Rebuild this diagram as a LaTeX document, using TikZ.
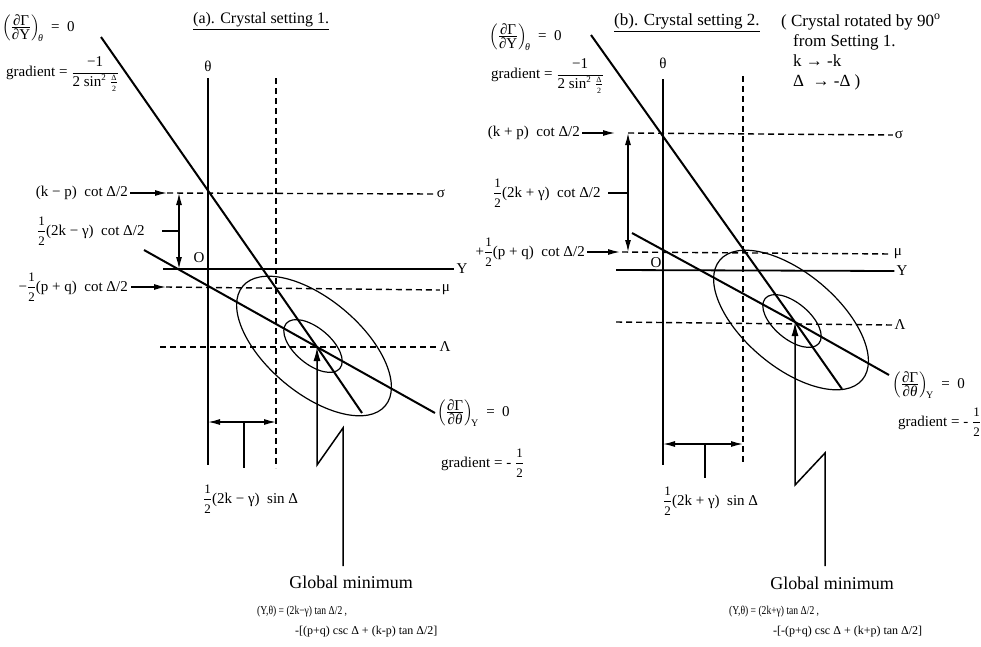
\documentclass[tikz,border=0pt]{standalone}
\usepackage{fontspec}
\setmainfont{Liberation Serif}
\usepackage{amsmath}
\usepackage{graphicx}
\usetikzlibrary{arrows.meta}
\newcommand{\hf}{\ensuremath{\genfrac{}{}{0.5pt}{0}{\mbox{\fontsize{13}{13}\selectfont 1}}{\mbox{\fontsize{13}{13}\selectfont 2}}}}
\newcommand{\pdr}[2]{\ensuremath{\left(\genfrac{}{}{0.6pt}{1}{\mbox{∂Γ}}{\mbox{∂#1}}\right)_{\!\mbox{\fontsize{10}{10}\selectfont #2}}}}
\newcommand{\gradfrac}{\ensuremath{\genfrac{}{}{0.5pt}{0}{\mbox{−1}}{\mbox{2 sin}^{\mbox{\fontsize{9}{9}\selectfont 2}}\;\genfrac{}{}{0.4pt}{1}{\mbox{\fontsize{8}{8}\selectfont Δ}}{\mbox{\fontsize{8}{8}\selectfont 2}}}}}
\begin{document}
\begin{tikzpicture}[x=1pt,y=-1pt,
  axis/.style={line width=1.5pt},
  yaxis/.style={line width=1.8pt},
  curve/.style={line width=2pt},
  dsh/.style={line width=1.4pt, dash pattern=on 6pt off 4pt},
  ell/.style={line width=1.2pt},
  tick/.style={line width=1.3pt},
  lbl/.style={font=\fontsize{15}{18}\selectfont, inner sep=0pt},
  ttlA/.style={font=\fontsize{16}{19}\selectfont, inner sep=0pt},
  ttlB/.style={font=\fontsize{17}{20}\selectfont, inner sep=0pt},
  note/.style={font=\fontsize{17}{20}\selectfont, inner sep=0pt, align=left},
  gm/.style={font=\fontsize{18}{21}\selectfont, inner sep=0pt},
  fm/.style={font=\fontsize{12}{14}\selectfont, inner sep=0pt},
  arr/.style={line width=1.3pt, -{Latex[length=12pt,width=6pt]}},
  darr/.style={line width=1.3pt, {Latex[length=12pt,width=6pt]}-{Latex[length=12pt,width=6pt]}},
  marr/.style={line width=1.5pt, -{Latex[length=14pt,width=7pt]}}
]
\useasboundingbox (0,0) rectangle (981,646);

% ================= LEFT PANEL =================
\coordinate (A1) at (208,78); \coordinate (A2) at (208,465);
\coordinate (B1) at (276,78); \coordinate (B2) at (276,468);
\coordinate (S1) at (167,193);
\coordinate (Y1) at (163,269);
\coordinate (U1) at (166,287);
\coordinate (L1) at (160,347);
\coordinate (M) at (317,347);
\coordinate (P1) at (101,37); \coordinate (P2) at (362,413);
\coordinate (Q1) at (144,250); \coordinate (Q2) at (435,413);
\coordinate (Z1) at (343,566); \coordinate (Z2) at (343,428); \coordinate (Z3) at (317,465);
\coordinate (D1) at (208,422); \coordinate (D2) at (276,422);
\coordinate (T1) at (244,422); \coordinate (T2) at (244,468);
\coordinate (V1) at (179,193); \coordinate (V2) at (179,269);
\coordinate (W1) at (162,231); \coordinate (W2) at (179,231);

\node[lbl] (th1) at (208,66) {θ};
\node[lbl] (O1) at (199,258) {O};
\node[lbl] (sg1) at (441,194) {σ};
\node[lbl] (yl1) at (462,269) {Y};
\node[lbl] (mu1) at (446,290) {μ};
\node[lbl] (La1) at (445,347) {Λ};

\draw[axis] (A1) -- (A2);
\draw[dsh] (B1) -- (B2);
\draw[dsh] (S1) -- ([xshift=-2pt]sg1.west);
\draw[yaxis] (Y1) -- ([xshift=-2pt]yl1.west);
\draw[dsh] (U1) -- ([xshift=-2pt]mu1.west);
\draw[dsh] (L1) -- ([xshift=-2pt]La1.west);
\draw[curve] (P1) -- (M) -- (P2);
\draw[curve] (Q1) -- (M) -- (Q2);
\draw[ell, rotate around={-40:(314,346)}] (314,346) ellipse [x radius=93, y radius=47];
\draw[ell, rotate around={-40:(313,346)}] (313,346) ellipse [x radius=35, y radius=18];
\draw[marr] (Z1) -- (Z2) -- (Z3) -- (M);
\draw[darr] (D1) -- (D2);
\draw[tick] (T1) -- (T2);
\draw[darr] (V1) -- (V2);
\draw[tick] (W1) -- (W2);

\node[lbl, anchor=east] (kp1) at (128,193) {(k − p)\ \ cot\ Δ/2};
\draw[arr] ([xshift=2pt]kp1.east) -- (S1);
\node[lbl, anchor=west] (hk1) at (37,231) {\hf(2k − γ)\ \ cot\ Δ/2};
\node[lbl, anchor=east] (pq1) at (128,287) {−\hf(p + q)\ \ cot\ Δ/2};
\draw[arr] ([xshift=3pt]pq1.east) -- (U1);

\node[lbl, anchor=west] (dY1) at (2,28) {\pdr{Y}{\textit{θ}}\ \ =\ \ 0};
\node[lbl, anchor=west] (gY1) at (6,74) {gradient = \gradfrac};
\node[ttlA, anchor=west] (tta) at (193,21) {\underline{(a). Crystal setting 1.}};
\node[lbl, anchor=west] (dT1) at (437,413) {\pdr{\textit{θ}}{Y}\ \ =\ \ 0};
\node[lbl, anchor=west] (gT1) at (441,463) {gradient = - \hf};
\node[lbl, anchor=west] (sd1) at (203,499) {\hf(2k − γ)\ \ sin\ Δ};
\node[gm] (gm1) at (351,582) {Global minimum};
\node[fm, anchor=west] (fa1) at (257,612) {\scalebox{0.8}[1]{(Y,θ) = (2k−γ) tan Δ/2 ,}};
\node[fm, anchor=west] (fb1) at (295,632) {-[(p+q) csc Δ + (k-p) tan Δ/2]};

% ================= RIGHT PANEL =================
\coordinate (rA1) at (663,79); \coordinate (rA2) at (663,465);
\coordinate (rB1) at (743,76); \coordinate (rB2) at (743,465);
\coordinate (rS1) at (628,133);
\coordinate (rK) at (615,133);
\coordinate (rU1) at (622,252);
\coordinate (rU0) at (620,252);
\coordinate (rY1) at (616,270);
\coordinate (rL1) at (616,322);
\coordinate (rM) at (795,322);
\coordinate (rP1) at (591,35); \coordinate (rP2) at (842,389);
\coordinate (rQ1) at (632,233); \coordinate (rQ2) at (889,375);
\coordinate (rZ1) at (825,566); \coordinate (rZ2) at (825,453); \coordinate (rZ3) at (795,485);
\coordinate (rD1) at (663,444); \coordinate (rD2) at (743,444);
\coordinate (rT1) at (705,444); \coordinate (rT2) at (705,478);
\coordinate (rV1) at (628,133); \coordinate (rV2) at (628,252);
\coordinate (rW1) at (608,193); \coordinate (rW2) at (628,193);

\node[lbl] (th2) at (663,63) {θ};
\node[lbl] (O2) at (656,263) {O};
\node[lbl] (sg2) at (899,135) {σ};
\node[lbl] (mu2) at (898,254) {μ};
\node[lbl] (yl2) at (902,271) {Y};
\node[lbl] (La2) at (900,325) {Λ};

\draw[axis] (rA1) -- (rA2);
\draw[dsh] (rB1) -- (rB2);
\draw[dsh] (rS1) -- ([xshift=-2pt]sg2.west);
\draw[dsh] (rU1) -- ([xshift=-2pt]mu2.west);
\draw[yaxis] (rY1) -- ([xshift=-2pt]yl2.west);
\draw[dsh] (rL1) -- ([xshift=-2pt]La2.west);
\draw[curve] (rP1) -- (rM) -- (rP2);
\draw[curve] (rQ1) -- (rM) -- (rQ2);
\draw[ell, rotate around={-40:(791,320)}] (791,320) ellipse [x radius=93, y radius=47];
\draw[ell, rotate around={-40:(792,321)}] (792,321) ellipse [x radius=35, y radius=18];
\draw[marr] (rZ1) -- (rZ2) -- (rZ3) -- (rM);
\draw[darr] (rD1) -- (rD2);
\draw[tick] (rT1) -- (rT2);
\draw[darr] (rV1) -- (rV2);
\draw[tick] (rW1) -- (rW2);

\node[lbl, anchor=east] (kp2) at (580,133) {(k + p)\ \ cot\ Δ/2};
\draw[arr] ([xshift=2pt]kp2.east) -- (rK);
\node[lbl, anchor=west] (hk2) at (493,193) {\hf(2k + γ)\ \ cot\ Δ/2};
\node[lbl, anchor=east] (pq2) at (585,252) {+\hf(p + q)\ \ cot\ Δ/2};
\draw[arr] ([xshift=2pt]pq2.east) -- (rU0);

\node[lbl, anchor=west] (dY2) at (489,37) {\pdr{Y}{\textit{θ}}\ \ =\ \ 0};
\node[lbl, anchor=west] (gY2) at (491,76) {gradient = \gradfrac};
\node[ttlB, anchor=west] (ttb) at (614,23) {\underline{(b). Crystal setting 2.}};
\node[note, anchor=north west] (nt) at (781,14) {( Crystal rotated by 90\textsuperscript{o}\\
\hspace*{12pt}from Setting 1.\\
\hspace*{12pt}k → -k\\
\hspace*{12pt}Δ\ \ → -Δ )};
\node[lbl, anchor=west] (dT2) at (892,385) {\pdr{\textit{θ}}{Y}\ \ =\ \ 0};
\node[lbl, anchor=west] (gT2) at (898,422) {gradient = - \hf};
\node[lbl, anchor=west] (sd2) at (663,501) {\hf(2k + γ)\ \ sin\ Δ};
\node[gm] (gm2) at (832,583) {Global minimum};
\node[fm, anchor=west] (fa2) at (729,612) {\scalebox{0.8}[1]{(Y,θ) = (2k+γ) tan Δ/2 ,}};
\node[fm, anchor=west] (fb2) at (773,632) {-[-(p+q) csc Δ + (k+p) tan Δ/2]};
\end{tikzpicture}
\end{document}
